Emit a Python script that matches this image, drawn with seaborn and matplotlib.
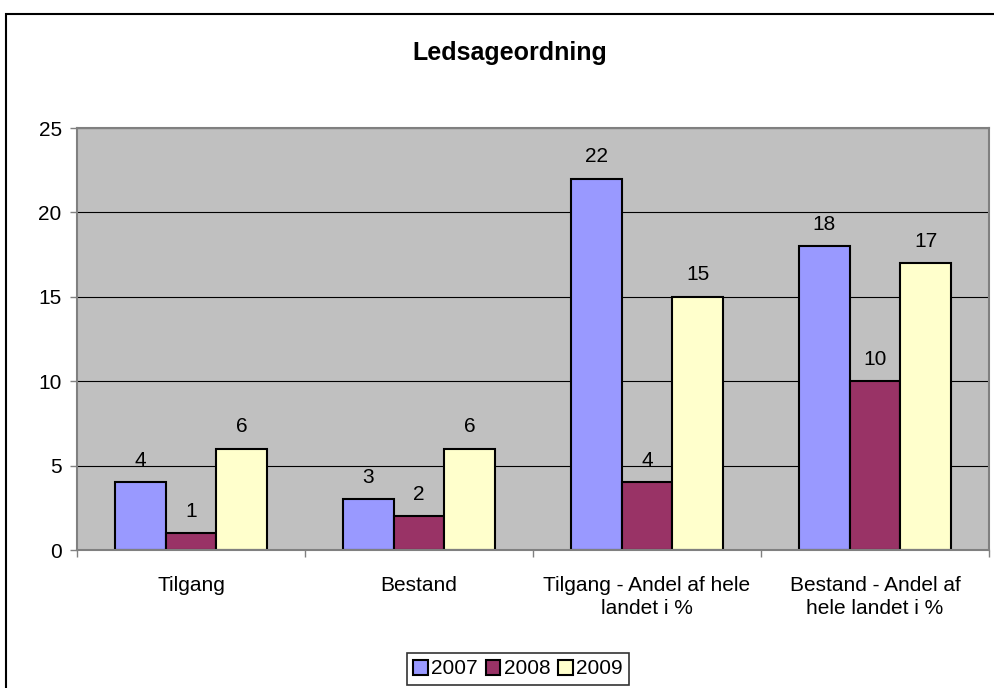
import matplotlib
matplotlib.use("Agg")
import matplotlib.pyplot as plt
import seaborn as sns
import pandas as pd
from matplotlib.patches import Rectangle, Patch

categories = ["Tilgang", "Bestand", "Tilgang - Andel af hele\nlandet i %", "Bestand - Andel af\nhele landet i %"]
years = ["2007", "2008", "2009"]
v2007 = [4, 3, 22, 18]
v2008 = [1, 2, 4, 10]
v2009 = [6, 6, 15, 17]
colors = ["#9999FF", "#993366", "#FFFFCC"]

rows = []
for y, vals in zip(years, [v2007, v2008, v2009]):
    for c, v in zip(categories, vals):
        rows.append({"cat": c, "year": y, "val": v})
df = pd.DataFrame(rows)

sns.set_theme(style="white")
plt.rcParams["font.family"] = ["Liberation Sans", "DejaVu Sans"]
plt.rcParams["text.color"] = "black"
plt.rcParams["xtick.color"] = "black"
plt.rcParams["ytick.color"] = "black"
plt.rcParams["xtick.labelcolor"] = "black"
plt.rcParams["ytick.labelcolor"] = "black"

fs = 15

fig = plt.figure(figsize=(9.95, 6.88), dpi=100)
ax = fig.add_axes([77/995, 1-550/688, 912/995, 422/688])
ax.set_facecolor("#C0C0C0")

sns.barplot(data=df, x="cat", y="val", hue="year", palette=colors, width=0.667,
            edgecolor="black", linewidth=1.5, ax=ax, legend=False, saturation=1)

for cont in ax.containers:
    ax.bar_label(cont, padding=9, fontsize=fs, color="black")

ax.set_ylim(0, 25)
ax.set_xlim(-0.5, 3.5)
ax.set_yticks([0, 5, 10, 15, 20, 25])
ax.yaxis.grid(True, color="black", linewidth=0.8)
ax.set_axisbelow(True)
ax.set_xlabel("")
ax.set_ylabel("")
ax.tick_params(axis="y", labelsize=fs, length=5, width=1, color="#808080", left=True, pad=6)
ax.tick_params(axis="x", labelsize=fs, length=0, pad=19)
ax.set_xticks(range(4))
ax.set_xticklabels(categories, linespacing=1.25)
ax.set_xticks([-0.5, 0.5, 1.5, 2.5, 3.5], minor=True)
ax.tick_params(axis="x", which="minor", length=5, width=1, color="#808080", bottom=True)
for s in ax.spines.values():
    s.set_color("#808080")
    s.set_linewidth(1.5)

fig.text(510/995, 1-53/688, "Ledsageordning", ha="center", va="center", fontsize=18, fontweight="bold")

handles = [Patch(facecolor=c, edgecolor="black", linewidth=1.5, label=y) for c, y in zip(colors, years)]
leg = fig.legend(handles=handles, loc="center", bbox_to_anchor=(518/995, 1-669/688), ncol=3,
                 fontsize=fs, frameon=True, fancybox=False, edgecolor="black",
                 handlelength=0.7, handleheight=0.7, handletextpad=0.15, columnspacing=0.4,
                 borderpad=0.3, borderaxespad=0)
leg.get_frame().set_linewidth(1.2)

fig.patches.append(Rectangle((6/995, -0.05), 1.05, 1-14/688+0.05, transform=fig.transFigure,
                             fill=False, edgecolor="black", linewidth=1.5, zorder=0))

fig.savefig("out.png", dpi=100, facecolor="white")
